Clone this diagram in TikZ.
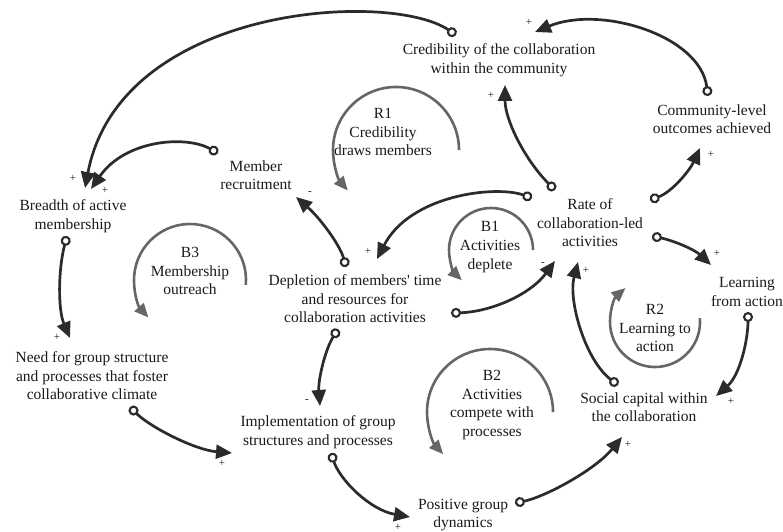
\documentclass[tikz,border=0pt]{standalone}
\usepackage{fontspec}
\setmainfont{Liberation Serif}
\usetikzlibrary{arrows.meta}
\definecolor{lk}{HTML}{2B2B2B}
\definecolor{lp}{HTML}{666666}
\definecolor{tx}{HTML}{1A1A1A}
\tikzset{
  lbl/.style={inner sep=0pt, align=center, text=tx, font=\fontsize{15.5}{18.6}\selectfont},
  sgn/.style={inner sep=0pt, text=tx, font=\fontsize{11}{12}\selectfont},
  link/.style={draw=lk, line width=2.7pt,
    {Circle[open,length=10pt,width=10pt,line width=2.1pt]}-{Triangle[length=16pt,width=14pt]}},
  loopa/.style={draw=lp, line width=2.6pt, -{Triangle[length=14pt,width=12pt]}}
}
\begin{document}
\begin{tikzpicture}[x=1pt,y=1pt]
\useasboundingbox[fill=white] (0,0) rectangle (783,531);
% variables
\node[lbl] (cred) at (499,471) {Credibility of the collaboration\\within the community};
\node[lbl] (comm) at (712,412) {Community-level\\outcomes achieved};
\node[lbl] (memrec) at (256,356) {Member\\recruitment};
\node[lbl] (breadth) at (73,315) {Breadth of active\\membership};
\node[lbl] (rate) at (590,308) {Rate of\\collaboration-led\\activities};
\node[lbl] (depl) at (355,232) {Depletion of members\textquotesingle\ time\\and resources for\\collaboration activities};
\node[lbl] (learn) at (747,239) {Learning\\from action};
\node[lbl] (need) at (92,155) {Need for group structure\\and processes that foster\\collaborative climate};
\node[lbl] (impl) at (318,99) {Implementation of group\\structures and processes};
\node[lbl] (social) at (644,124) {Social capital within\\the collaboration};
\node[lbl] (pos) at (463,16) {Positive group\\dynamics};
% loop labels
\node[lbl] (r1) at (383,399) {R1\\Credibility\\draws members};
\node[lbl] (b3) at (190,260) {B3\\Membership\\outreach};
\node[lbl] (b1) at (490,284) {B1\\Activities\\deplete};
\node[lbl] (r2) at (655,203) {R2\\Learning to\\action};
\node[lbl] (b2) at (492,126) {B2\\Activities\\compete with\\processes};
% loop arcs
\draw[loopa] (396,381) ++(0:63) arc[start angle=0,end angle=220,radius=63];
\draw[loopa] (491,281) ++(0:42) arc[start angle=0,end angle=226,radius=42];
\draw[loopa] (190,251) ++(-5:56) arc[start angle=-5,end angle=222,radius=56];
\draw[loopa] (490,119) ++(0:63) arc[start angle=0,end angle=222,radius=63];
\draw[loopa] (655,209) ++(5:45) arc[start angle=5,end angle=-229,radius=45];
% causal links
\draw[link] ([shift={(-43,25)}]cred.center) .. controls +(-66,45) and +(35,183) .. ([shift={(12,28)}]breadth.center);
\draw[link] ([shift={(-38,22)}]memrec.center) .. controls +(-33,18) and +(34,49) .. ([shift={(18,27)}]breadth.center);
\draw[link] ([shift={(-6,-20)}]breadth.center) .. controls +(-9,-34) and +(-12,28) .. ([shift={(-22,38)}]need.center);
\draw[link] ([shift={(38,-31)}]need.center) .. controls +(20,-20) and +(-37,3) .. ([shift={(-86,-21)}]impl.center);
\draw[link] ([shift={(-17,-30)}]depl.center) .. controls +(-13,-21) and +(-2,26) .. ([shift={(2,26)}]impl.center);
\draw[link] ([shift={(13,-21)}]impl.center) .. controls +(9,-27) and +(-40,7) .. ([shift={(-53,-2)}]pos.center);
\draw[link] ([shift={(52,12)}]pos.center) .. controls +(30,6) and +(-27,-33) .. ([shift={(-22,-30)}]social.center);
\draw[link] ([shift={(-26,22)}]social.center) .. controls +(-33,25) and +(-10,-38) .. ([shift={(-12,-39)}]rate.center);
\draw[link] ([shift={(1,-20)}]learn.center) .. controls +(0,-28) and +(24,21) .. ([shift={(72,11)}]social.center);
\draw[link] ([shift={(62,-13)}]rate.center) .. controls +(23,-5) and +(-16,15) .. ([shift={(-36,27)}]learn.center);
\draw[link] ([shift={(60,23)}]rate.center) .. controls +(22,8) and +(-10,-22) .. ([shift={(-12,-29)}]comm.center);
\draw[link] ([shift={(-4,23)}]comm.center) .. controls +(-8,61) and +(65,27) .. ([shift={(36,28)}]cred.center);
\draw[link] ([shift={(-35,33)}]rate.center) .. controls +(-30,30) and +(0,-35) .. ([shift={(6,-25)}]cred.center);
\draw[link] ([shift={(-58,25)}]rate.center) .. controls +(-37,13) and +(33,64) .. ([shift={(22,40)}]depl.center);
\draw[link] ([shift={(-9,32)}]depl.center) .. controls +(-6,22) and +(24,-21) .. ([shift={(40,-22)}]memrec.center);
\draw[link] ([shift={(96,-14)}]depl.center) .. controls +(39,1) and +(-25,-34) .. ([shift={(-35,-38)}]rate.center);
% polarity signs
\node[sgn] (s1) at (73,353) {+};
\node[sgn] (s2) at (105,341) {+};
\node[sgn] (s3) at (57,194) {+};
\node[sgn] (s4) at (222,68) {+};
\node[sgn] (s5) at (307,130) {-};
\node[sgn] (s6) at (398,4) {+};
\node[sgn] (s7) at (628,87) {+};
\node[sgn] (s8) at (586,261) {+};
\node[sgn] (s9) at (731,130) {+};
\node[sgn] (s10) at (717,278) {+};
\node[sgn] (s11) at (711,377) {+};
\node[sgn] (s12) at (529,509) {+};
\node[sgn] (s13) at (491,436) {+};
\node[sgn] (s14) at (368,280) {+};
\node[sgn] (s15) at (310,338) {-};
\node[sgn] (s16) at (543,267) {-};
\end{tikzpicture}
\end{document}
